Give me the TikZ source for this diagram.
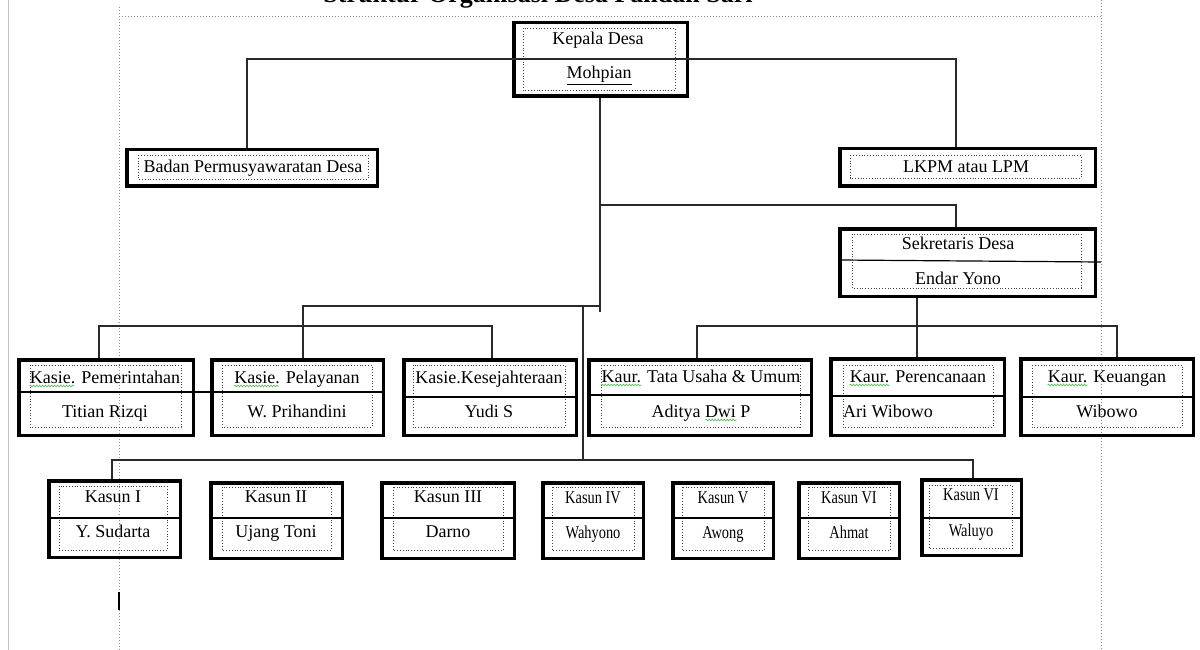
\documentclass[tikz,border=0pt]{standalone}
\usepackage{fontspec}
\setmainfont{Liberation Serif}
\newfontfamily\narrowf[FakeStretch=0.8]{Liberation Serif}
\usetikzlibrary{calc,decorations.pathmorphing}
\definecolor{connc}{HTML}{2A2A2A}
\definecolor{pageln}{HTML}{BCC4CC}
\definecolor{sqg}{HTML}{5DBB63}
\newcommand\obox[5]{\node[outer, minimum width={#4-#2-3.5}, minimum height={#5-#3-3.5}] (#1) at ({(#2+#4)/2},{(#3+#5)/2}) {};}
\tikzset{
  outer/.style={draw=black, line width=3.5pt, inner sep=0pt},
  innerbox/.style={draw=black!75, dotted, line width=0.8pt},
  divline/.style={draw=black, line width=1.2pt},
  conn/.style={draw=connc, line width=1.3pt},
  lbl/.style={font=\fontsize{18}{20}\selectfont, inner sep=0pt, anchor=base},
  nlbl/.style={font=\narrowf\fontsize{18}{20}\selectfont, inner sep=0pt, anchor=base},
  guide/.style={draw=black!45, dotted, line width=1pt},
  squig/.style={draw=sqg, line width=0.7pt, decorate, decoration={snake, amplitude=0.8pt, segment length=3pt}},
}
\begin{document}
\begin{tikzpicture}[x=1pt,y=-1pt]
\useasboundingbox (0,0) rectangle (1200,650);
% page guides
\draw[draw=pageln, line width=1.2pt] (8.5,0) -- (8.5,650);
\draw[guide] (119,7) -- (119,650);
\draw[guide] (119,17) -- (1101,17);
\draw[guide] (1101,0) -- (1101,650);
\draw[line width=2pt] (119,592) -- (119,610);
% title (cut off at top, as in the reference)
\node[font=\bfseries\fontsize{26}{28}\selectfont, inner sep=0pt, anchor=base] (title) at (538,2.5) {Struktur Organisasi Desa Pandan Sari};

% boxes
\obox{kd}{512}{21}{689}{98}
\obox{bpd}{125}{148}{379}{188}
\obox{lk}{838}{147}{1097}{188}
\obox{sek}{838}{227}{1097}{298}
\obox{ka}{17}{358}{195}{437}
\obox{kb}{210}{358}{385}{437}
\obox{kc}{402}{358}{578}{437}
\obox{ra}{587}{358}{813}{437}
\obox{rb}{829}{357}{1006}{437}
\obox{rc}{1019}{357}{1195}{437}
\obox{sa}{47}{479}{182}{559}
\obox{sb}{209}{481}{344}{560}
\obox{sc}{380}{481}{516}{560}
\obox{sd}{541}{481}{645}{560}
\obox{se}{671}{481}{775}{560}
\obox{sf}{797}{481}{901}{560}
\obox{sg}{920}{478}{1023}{557}

% inner dotted frames
\draw[innerbox] (523,28) rectangle (675,90);
\draw[innerbox] (138,155) rectangle (368,179);
\draw[innerbox] (850,155) rectangle (1081,178);
\draw[innerbox] (852,234) rectangle (1081,288);
\draw[innerbox] (30,365) rectangle (181,427);
\draw[innerbox] (222,365) rectangle (372,427);
\draw[innerbox] (413,365) rectangle (565,427);
\draw[innerbox] (601,365) rectangle (800,427);
\draw[innerbox] (843,365) rectangle (993,427);
\draw[innerbox] (1032,365) rectangle (1182,427);
\draw[innerbox] (59,486) rectangle (167,550);
\draw[innerbox] (222,487) rectangle (331,550);
\draw[innerbox] (393,487) rectangle (503,550);
\draw[innerbox] (552,487) rectangle (634,550);
\draw[innerbox] (682,487) rectangle (764,550);
\draw[innerbox] (808,487) rectangle (890,550);
\draw[innerbox] (929,485) rectangle (1012,548);

% dividers
\draw[divline] (sek.west |- 0,260) -- (1101,262);
\draw[divline] (ka.west |- 0,392) -- (kb.east |- 0,392);
\draw[divline] (kc.west |- 0,397) -- (kc.east |- 0,397);
\draw[divline] (ra.west |- 0,395) -- (ra.east |- 0,395);
\draw[divline] (rb.west |- 0,396) -- (rb.east |- 0,396);
\draw[divline] (rc.west |- 0,397) -- (rc.east |- 0,397);
\foreach \b in {sa,sb,sc,sd,se,sf,sg}{\draw[divline] (\b.west |- 0,518) -- (\b.east |- 0,518);}

% texts
\node[lbl] (tkd1) at (598,45) {Kepala Desa};
\node[lbl] (tkd2) at (599,79) {\underline{Mohpian}};
\node[lbl] (tbpd) at (253,172) {Badan Permusyawaratan Desa};
\node[lbl] (tlk) at (966,172) {LKPM atau LPM};
\node[lbl] (tsek1) at (958,249) {Sekretaris Desa};
\node[lbl] (tsek2) at (958,284) {Endar Yono};
\node[lbl] (tka1) at (105,383) {Kasie. Pemerintahan};
\node[lbl] (tka2) at (105,417) {Titian Rizqi};
\node[lbl] (tkb1) at (297,383) {Kasie. Pelayanan};
\node[lbl] (tkb2) at (297,417) {W. Prihandini};
\node[lbl] (tkc1) at (489,383) {Kasie.Kesejahteraan};
\node[lbl] (tkc2) at (489,417) {Yudi S};
\node[lbl] (tra1) at (701,382) {Kaur. Tata Usaha \& Umum};
\node[lbl] (tra2) at (701,417) {Aditya Dwi P};
\node[lbl] (trb1) at (918,382) {Kaur. Perencanaan};
\node[lbl, anchor=base west] (trb2) at (843,417) {Ari Wibowo};
\node[lbl] (trc1) at (1107,382) {Kaur. Keuangan};
\node[lbl] (trc2) at (1107,417) {Wibowo};
\node[lbl] (tsa1) at (113,502) {Kasun I};
\node[lbl] (tsa2) at (113,537) {Y. Sudarta};
\node[lbl] (tsb1) at (276,502) {Kasun II};
\node[lbl] (tsb2) at (276,537) {Ujang Toni};
\node[lbl] (tsc1) at (448,502) {Kasun III};
\node[lbl] (tsc2) at (448,537) {Darno};
\node[nlbl] (tsd1) at (593,503) {Kasun IV};
\node[nlbl] (tsd2) at (593,538) {Wahyono};
\node[nlbl] (tse1) at (723,503) {Kasun V};
\node[nlbl] (tse2) at (723,538) {Awong};
\node[nlbl] (tsf1) at (849,503) {Kasun VI};
\node[nlbl] (tsf2) at (849,538) {Ahmat};
\node[nlbl] (tsg1) at (971,500) {Kasun VI};
\node[nlbl] (tsg2) at (971,536) {Waluyo};

% spell-check squiggles
\draw[squig] ($(tka1.base west)+(0,3)$) -- ++(45,0);
\draw[squig] ($(tkb1.base west)+(0,3)$) -- ++(45,0);
\draw[squig] ($(tra1.base west)+(0,3)$) -- ++(40,0);
\draw[squig] ($(trb1.base west)+(0,3)$) -- ++(40,0);
\draw[squig] ($(trc1.base west)+(0,3)$) -- ++(40,0);
\draw[squig] ($(tra2.base west)+(54,3)$) -- ++(31,0);

% junctions
\coordinate (jb) at (247,59);
\coordinate (jl) at (956,59);
\coordinate (j1) at (600,205);
\coordinate (js) at (956,205);
\coordinate (j2) at (600,312);
\coordinate (jk) at (600,306);
\coordinate (jt) at (583,306);
\coordinate (jkb) at (303,306);
\coordinate (jka) at (99,326);
\coordinate (jkc) at (492,326);
\coordinate (jr) at (917,326);
\coordinate (jra) at (697,326);
\coordinate (jrc) at (1117,326);
\coordinate (jsa) at (112,460);
\coordinate (jsd) at (583,461);
\coordinate (jsg) at (973,460);

% connectors
\draw[conn] (bpd.north -| jb) -- (jb) -- (jl) -- (lk.north -| jl);
\draw[conn] (kd.south -| j1) -- (j1) -- (js) -- (sek.north -| js);
\draw[conn] (j1) -- (j2);
\draw[conn] (jk) -- (jkb) -- (kb.north -| jkb);
\draw[conn] (jt) -- (jsd);
\draw[conn] (ka.north -| jka) -- (jka) -- (jkc) -- (kc.north -| jkc);
\draw[conn] (sek.south -| jr) -- (rb.north -| jr);
\draw[conn] (ra.north -| jra) -- (jra) -- (jrc) -- (rc.north -| jrc);
\draw[conn] (sa.north -| jsa) -- (jsa) -- (jsg) -- (sg.north -| jsg);
\draw[conn] (sb.north -| 269,0) -- (sb.north -| 269,460);
\draw[conn] (sc.north -| 444,0) -- (sc.north -| 444,460);
\draw[conn] (sd.north -| 569,0) -- (sd.north -| 569,450);
\draw[conn] (se.north -| 719,0) -- (se.north -| 719,460);
\draw[conn] (sf.north -| 842,0) -- (sf.north -| 842,460);
\end{tikzpicture}
\end{document}
